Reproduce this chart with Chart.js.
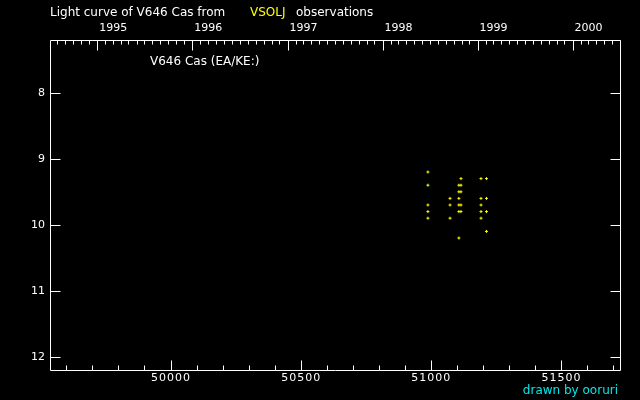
<!DOCTYPE html>
<html>
<head>
<meta charset="utf-8">
<script src="https://cdn.jsdelivr.net/npm/chart.js@4/dist/chart.umd.min.js"></script>
<style>
html,body{margin:0;padding:0;background:#000;}
#wrap{width:640px;height:400px;position:relative;}
</style>
</head>
<body>
<div id="wrap"><canvas id="c" width="640" height="400"></canvas></div>
<script>
// Observation data (JD - 2400000, visual magnitude)
const obsJD  = [50989,50989,50989,50989,50989,
                51074,51074,51074,
                51108,51108,51108,51108,51108,51108,
                51116,51116,51116,51116,51116,
                51193,51193,51193,51193,51193,
                51214,51214,51214,51214];
const obsMag = [9.2,9.4,9.7,9.8,9.9,
                9.6,9.7,9.9,
                9.4,9.5,9.6,9.7,9.8,10.2,
                9.3,9.4,9.5,9.7,9.8,
                9.3,9.6,9.7,9.8,9.9,
                9.3,9.6,9.8,10.1];

// Axis ranges and ticks
const xRange = [49537, 51727];
const yRange = [7.2, 12.2];
const xMajorTicks = [50000, 50500, 51000, 51500];
const xMinorStep = 100;
const yMajorTicks = [8, 9, 10, 11, 12];
const yearLabels = ["1995","1996","1997","1998","1999","2000"];
const yearStartJD = [49718.5, 50083.5, 50449.5, 50814.5, 51179.5, 51544.5];
const monthStartJD = (function(){
  // first day of each month, 1994-2000 (JD - 2400000)
  const arr = [];
  for (let y = 1994; y <= 2000; y++) {
    for (let m = 1; m <= 12; m++) {
      const a = Math.floor((14 - m) / 12);
      const yy = y + 4800 - a;
      const mm = m + 12 * a - 3;
      const jdn = 1 + Math.floor((153 * mm + 2) / 5) + 365 * yy + Math.floor(yy / 4) - Math.floor(yy / 100) + Math.floor(yy / 400) - 32045;
      arr.push(jdn - 0.5 - 2400000);
    }
  }
  return arr;
})();

const titleParts = ["Light curve of V646 Cas from", "VSOLJ", "observations"];
const starLabel = "V646 Cas (EA/KE:)";
const creditText = "drawn by ooruri";

const NUMFONT = '11px "DejaVu Sans"';
const TEXTFONT = '12px "DejaVu Sans"';

const framePlugin = {
  id: 'frame',
  afterDraw(chart) {
    const ctx = chart.ctx;
    const a = chart.chartArea;
    const xs = chart.scales.x, ys = chart.scales.y;
    ctx.save();
    ctx.strokeStyle = '#fff';
    ctx.lineWidth = 1;
    const L = Math.round(a.left) + 0.5, R = Math.round(a.right) + 0.5;
    const T = Math.round(a.top) + 0.5, B = Math.round(a.bottom) + 0.5;
    ctx.beginPath();
    ctx.rect(L, T, R - L, B - T);
    ctx.stroke();
    ctx.beginPath();
    for (let v = Math.ceil(xRange[0] / xMinorStep) * xMinorStep; v <= xRange[1]; v += xMinorStep) {
      const px = Math.round(xs.getPixelForValue(v)) + 0.5;
      const len = (v % 500 === 0) ? 10 : 5;
      ctx.moveTo(px, B); ctx.lineTo(px, B - len);
    }
    monthStartJD.forEach(v => {
      if (v <= xRange[0] || v >= xRange[1]) return;
      const px = Math.round(xs.getPixelForValue(v)) + 0.5;
      const isYear = yearStartJD.some(y => Math.abs(y - v) < 0.01);
      const len = isYear ? 10 : 4;
      ctx.moveTo(px, T); ctx.lineTo(px, T + len);
    });
    yMajorTicks.forEach(v => {
      const py = Math.round(ys.getPixelForValue(v)) + 0.5;
      ctx.moveTo(L, py); ctx.lineTo(L + 10, py);
      ctx.moveTo(R, py); ctx.lineTo(R - 10, py);
    });
    ctx.stroke();

    ctx.font = NUMFONT;
    ctx.fillStyle = '#fff';
    ctx.textBaseline = 'middle';
    ctx.textAlign = 'center';
    ctx.letterSpacing = '1px';
    xMajorTicks.forEach(v => {
      ctx.fillText(String(v), xs.getPixelForValue(v) + 0.5, 378);
    });
    ctx.letterSpacing = '0px';
    ctx.textAlign = 'left';
    yearLabels.forEach((t, i) => {
      ctx.fillText(t, xs.getPixelForValue(yearStartJD[i]) + 2, 28.5);
    });
    ctx.textAlign = 'right';
    yMajorTicks.forEach(v => {
      ctx.fillText(String(v), 45, ys.getPixelForValue(v) + 0.5);
    });
    ctx.font = TEXTFONT;
    ctx.textAlign = 'left';
    ctx.fillText(titleParts[0], 50, 13);
    ctx.fillStyle = '#ffff00';
    ctx.fillText(titleParts[1], 250, 13);
    ctx.fillStyle = '#fff';
    ctx.fillText(titleParts[2], 296, 13);
    ctx.fillText(starLabel, 150, 62);
    ctx.fillStyle = '#00e8e8';
    ctx.textAlign = 'right';
    ctx.fillText(creditText, 618, 391);
    ctx.restore();
  }
};

const points = obsJD.map((x, i) => ({x: x, y: obsMag[i]}));

new Chart(document.getElementById('c'), {
  type: 'scatter',
  data: {
    datasets: [{
      data: points,
      pointStyle: 'cross',
      pointRadius: 1.5,
      pointBorderWidth: 1,
      borderColor: '#ffff00',
      backgroundColor: '#ffff00'
    }]
  },
  options: {
    responsive: false,
    animation: false,
    devicePixelRatio: 1,
    layout: {padding: {left: 50, right: 20, top: 40, bottom: 30}},
    plugins: {legend: {display: false}, tooltip: {enabled: false}},
    scales: {
      x: {type: 'linear', min: xRange[0], max: xRange[1], display: false},
      y: {type: 'linear', min: yRange[0], max: yRange[1], reverse: true, display: false}
    }
  },
  plugins: [framePlugin, {
    id: 'bg',
    beforeDraw(chart) {
      const ctx = chart.ctx;
      ctx.save();
      ctx.fillStyle = '#000';
      ctx.fillRect(0, 0, chart.width, chart.height);
      ctx.restore();
    }
  }]
});
</script>
</body>
</html>
